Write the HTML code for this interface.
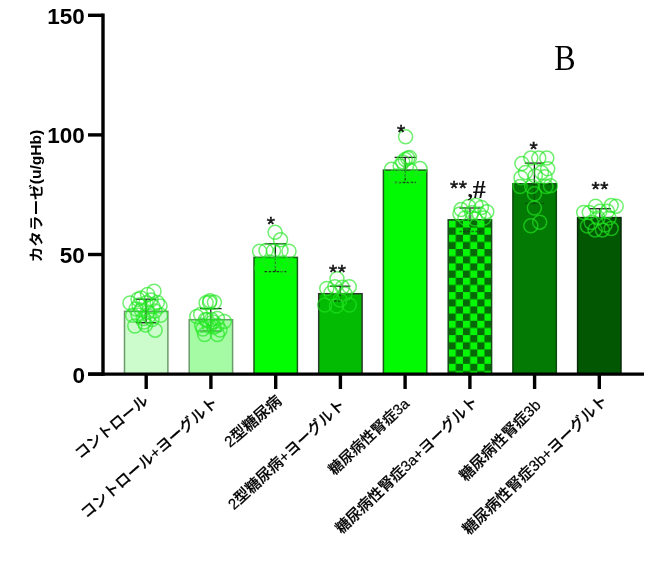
<!DOCTYPE html>
<html><head><meta charset="utf-8"><style>
html,body{margin:0;padding:0;background:#fff;width:650px;height:561px;overflow:hidden}
svg{display:block;filter:blur(0.35px)}
</style></head><body><svg width="650" height="561" viewBox="0 0 650 561"><defs><pattern id="chk" x="448.6" y="220.4" width="14.34" height="14.34" patternUnits="userSpaceOnUse"><rect width="14.34" height="14.34" fill="#066806"/><rect width="7.17" height="7.17" fill="#06f806"/><rect x="7.17" y="7.17" width="7.17" height="7.17" fill="#06f806"/></pattern></defs><rect x="124.5" y="311.3" width="43.4" height="62.8" fill="#ccfccc" stroke="#6a9c6a" stroke-width="1.5"/><rect x="189.2" y="319.7" width="43.4" height="54.4" fill="#a4fba4" stroke="#6a9c6a" stroke-width="1.5"/><rect x="254.0" y="257.4" width="43.4" height="116.7" fill="#02fc02" stroke="#1a5a1a" stroke-width="1.5"/><rect x="318.7" y="293.7" width="43.4" height="80.4" fill="#02bb02" stroke="#2a3a2a" stroke-width="1.5"/><rect x="383.4" y="170.1" width="43.4" height="204.0" fill="#02fa02" stroke="#1a5a1a" stroke-width="1.5"/><rect x="448.2" y="219.8" width="43.4" height="154.3" fill="url(#chk)" stroke="#1a4a1a" stroke-width="1.5"/><rect x="512.9" y="183.8" width="43.4" height="190.3" fill="#037a03" stroke="#0a4a0a" stroke-width="1.5"/><rect x="577.6" y="217.6" width="43.4" height="156.5" fill="#025802" stroke="#0a2a0a" stroke-width="1.5"/><g fill="none" stroke="#1e1e1e" stroke-width="1.3"><line x1="146.0" y1="299.2" x2="146.0" y2="311.3"/><line x1="135.8" y1="299.2" x2="156.2" y2="299.2"/><g stroke-opacity="1.00"><line x1="146.0" y1="311.3" x2="146.0" y2="322.7"/><line x1="135.8" y1="322.7" x2="156.2" y2="322.7"/></g><line x1="210.8" y1="308.6" x2="210.8" y2="319.7"/><line x1="200.0" y1="308.6" x2="221.6" y2="308.6"/><g stroke-opacity="0.50"><line x1="210.8" y1="319.7" x2="210.8" y2="331.0"/><line x1="200.0" y1="331.0" x2="221.6" y2="331.0"/></g><line x1="275.4" y1="243.8" x2="275.4" y2="257.4"/><line x1="264.6" y1="243.8" x2="286.2" y2="243.8"/><g stroke-opacity="0.90" stroke-dasharray="2.5 1.5"><line x1="275.4" y1="257.4" x2="275.4" y2="271.6"/><line x1="264.6" y1="271.6" x2="286.2" y2="271.6"/></g><line x1="340.2" y1="286.2" x2="340.2" y2="293.7"/><line x1="330.0" y1="286.2" x2="350.4" y2="286.2"/><g stroke-opacity="0.80" stroke-dasharray="2.5 1.5"><line x1="340.2" y1="293.7" x2="340.2" y2="300.8"/><line x1="330.0" y1="300.8" x2="350.4" y2="300.8"/></g><line x1="405.2" y1="157.4" x2="405.2" y2="170.1"/><line x1="394.6" y1="157.4" x2="415.8" y2="157.4"/><g stroke-opacity="0.80" stroke-dasharray="2.5 1.5"><line x1="405.2" y1="170.1" x2="405.2" y2="182.5"/><line x1="394.6" y1="182.5" x2="415.8" y2="182.5"/></g><line x1="470.0" y1="208.0" x2="470.0" y2="219.8"/><line x1="459.4" y1="208.0" x2="480.6" y2="208.0"/><g stroke-opacity="0.60" stroke-dasharray="2.5 1.5"><line x1="470.0" y1="219.8" x2="470.0" y2="231.5"/><line x1="459.4" y1="231.5" x2="480.6" y2="231.5"/></g><line x1="534.4" y1="163.1" x2="534.4" y2="183.8"/><line x1="524.8" y1="163.1" x2="544.0" y2="163.1"/><g stroke-opacity="0.35"><line x1="534.4" y1="183.8" x2="534.4" y2="203.5"/><line x1="524.8" y1="203.5" x2="544.0" y2="203.5"/></g><line x1="599.8" y1="208.7" x2="599.8" y2="217.6"/><line x1="588.8" y1="208.7" x2="610.8" y2="208.7"/><g stroke-opacity="0.30"><line x1="599.8" y1="217.6" x2="599.8" y2="226.0"/><line x1="588.8" y1="226.0" x2="610.8" y2="226.0"/></g></g><g fill="none" stroke="#22e622" stroke-width="1.5" stroke-opacity="0.65"><circle cx="154.0" cy="291.2" r="7"/><circle cx="147.6" cy="294.4" r="7"/><circle cx="130.0" cy="303.0" r="7"/><circle cx="138.0" cy="299.2" r="7"/><circle cx="157.3" cy="302.4" r="7"/><circle cx="160.0" cy="306.0" r="7"/><circle cx="132.7" cy="315.3" r="7"/><circle cx="134.8" cy="326.0" r="7"/><circle cx="155.1" cy="330.2" r="7"/><circle cx="145.5" cy="324.9" r="7"/><circle cx="147.6" cy="312.0" r="7"/><circle cx="141.2" cy="310.0" r="7"/><circle cx="153.0" cy="306.7" r="7"/><circle cx="160.5" cy="315.3" r="7"/><circle cx="143.4" cy="318.5" r="7"/><circle cx="152.0" cy="319.5" r="7"/><circle cx="139.0" cy="305.0" r="7"/><circle cx="146.0" cy="303.0" r="7"/><circle cx="141.0" cy="298.0" r="7"/><circle cx="151.0" cy="300.0" r="7"/><circle cx="138.0" cy="315.0" r="7"/><circle cx="149.0" cy="316.0" r="7"/><circle cx="144.0" cy="322.0" r="7"/><circle cx="155.0" cy="311.0" r="7"/><circle cx="136.0" cy="309.0" r="7"/><circle cx="209.5" cy="302.3" r="7"/><circle cx="206.1" cy="302.8" r="7"/><circle cx="214.4" cy="302.3" r="7"/><circle cx="210.0" cy="300.8" r="7"/><circle cx="196.8" cy="316.5" r="7"/><circle cx="200.7" cy="314.5" r="7"/><circle cx="205.6" cy="319.4" r="7"/><circle cx="211.5" cy="319.4" r="7"/><circle cx="217.4" cy="318.5" r="7"/><circle cx="224.3" cy="321.4" r="7"/><circle cx="201.7" cy="325.3" r="7"/><circle cx="209.5" cy="326.3" r="7"/><circle cx="217.4" cy="325.3" r="7"/><circle cx="204.6" cy="334.6" r="7"/><circle cx="217.4" cy="334.6" r="7"/><circle cx="213.0" cy="322.0" r="7"/><circle cx="207.0" cy="320.0" r="7"/><circle cx="214.0" cy="327.0" r="7"/><circle cx="203.0" cy="329.0" r="7"/><circle cx="220.0" cy="330.0" r="7"/><circle cx="275.1" cy="232.3" r="7"/><circle cx="280.5" cy="239.8" r="7"/><circle cx="259.6" cy="251.2" r="7"/><circle cx="266.0" cy="250.5" r="7"/><circle cx="273.5" cy="251.0" r="7"/><circle cx="281.0" cy="250.5" r="7"/><circle cx="289.0" cy="251.2" r="7"/><circle cx="270.0" cy="262.0" r="7"/><circle cx="282.0" cy="263.0" r="7"/><circle cx="262.0" cy="268.0" r="7"/><circle cx="288.0" cy="268.0" r="7"/><circle cx="337.0" cy="278.7" r="7"/><circle cx="326.8" cy="288.4" r="7"/><circle cx="334.9" cy="286.7" r="7"/><circle cx="342.4" cy="287.3" r="7"/><circle cx="349.3" cy="286.7" r="7"/><circle cx="331.0" cy="293.0" r="7"/><circle cx="345.0" cy="294.0" r="7"/><circle cx="324.7" cy="305.0" r="7"/><circle cx="336.5" cy="306.0" r="7"/><circle cx="349.3" cy="305.0" r="7"/><circle cx="340.0" cy="300.0" r="7"/><circle cx="405.6" cy="136.8" r="7"/><circle cx="407.7" cy="158.2" r="7"/><circle cx="405.2" cy="159.4" r="7"/><circle cx="409.5" cy="157.5" r="7"/><circle cx="402.7" cy="161.9" r="7"/><circle cx="391.5" cy="169.3" r="7"/><circle cx="400.2" cy="166.1" r="7"/><circle cx="420.0" cy="168.6" r="7"/><circle cx="410.0" cy="170.0" r="7"/><circle cx="396.0" cy="176.0" r="7"/><circle cx="414.0" cy="177.0" r="7"/><circle cx="461.1" cy="209.6" r="7"/><circle cx="468.6" cy="206.4" r="7"/><circle cx="476.1" cy="205.3" r="7"/><circle cx="481.4" cy="207.5" r="7"/><circle cx="486.8" cy="211.7" r="7"/><circle cx="460.0" cy="213.9" r="7"/><circle cx="471.8" cy="212.8" r="7"/><circle cx="479.3" cy="213.9" r="7"/><circle cx="465.0" cy="218.0" r="7"/><circle cx="475.0" cy="219.0" r="7"/><circle cx="484.0" cy="218.0" r="7"/><circle cx="521.9" cy="163.5" r="7"/><circle cx="530.8" cy="158.1" r="7"/><circle cx="538.8" cy="158.1" r="7"/><circle cx="546.8" cy="158.1" r="7"/><circle cx="525.5" cy="172.4" r="7"/><circle cx="541.5" cy="172.4" r="7"/><circle cx="547.7" cy="168.8" r="7"/><circle cx="521.0" cy="177.7" r="7"/><circle cx="535.3" cy="176.0" r="7"/><circle cx="545.0" cy="176.8" r="7"/><circle cx="520.1" cy="186.6" r="7"/><circle cx="531.7" cy="186.6" r="7"/><circle cx="546.0" cy="186.6" r="7"/><circle cx="550.4" cy="185.7" r="7"/><circle cx="534.4" cy="193.8" r="7"/><circle cx="534.4" cy="208.0" r="7"/><circle cx="530.8" cy="225.8" r="7"/><circle cx="539.7" cy="222.2" r="7"/><circle cx="595.6" cy="206.2" r="7"/><circle cx="611.2" cy="205.6" r="7"/><circle cx="616.2" cy="206.2" r="7"/><circle cx="583.7" cy="212.4" r="7"/><circle cx="589.3" cy="212.4" r="7"/><circle cx="600.0" cy="211.2" r="7"/><circle cx="607.4" cy="211.2" r="7"/><circle cx="587.5" cy="226.1" r="7"/><circle cx="595.0" cy="229.9" r="7"/><circle cx="602.4" cy="229.9" r="7"/><circle cx="611.2" cy="228.6" r="7"/><circle cx="605.0" cy="224.9" r="7"/><circle cx="591.2" cy="222.4" r="7"/><circle cx="598.0" cy="218.0" r="7"/><circle cx="609.0" cy="218.0" r="7"/></g><g font-family="Liberation Sans, Arial, sans-serif" font-size="21" font-weight="normal" fill="#111" stroke="#111" stroke-width="0.5" text-anchor="middle"><text x="270.8" y="231.0">*</text><text x="333.2" y="279.0">*</text><text x="341.8" y="279.0">*</text><text x="401.2" y="139.0">*</text><text x="454.2" y="194.6">*</text><text x="462.8" y="194.6">*</text><text x="533.5" y="156.0">*</text><text x="595.7" y="196.2">*</text><text x="604.3" y="196.2">*</text></g><text x="467.5" y="197.4" font-family="Liberation Serif, serif" font-size="22" font-weight="bold" fill="#111">,</text><text x="472.8" y="197.6" font-family="Liberation Serif, serif" font-size="26" font-weight="bold" fill="#111">#</text><g stroke="#000" stroke-width="3.4" fill="none"><line x1="103" y1="13.6" x2="103" y2="375.8"/><line x1="88" y1="374.1" x2="644" y2="374.1"/><line x1="88" y1="374.1" x2="103" y2="374.1"/><line x1="88" y1="254.5" x2="103" y2="254.5"/><line x1="88" y1="134.9" x2="103" y2="134.9"/><line x1="88" y1="15.3" x2="103" y2="15.3"/><line x1="146.2" y1="374" x2="146.2" y2="389"/><line x1="210.9" y1="374" x2="210.9" y2="389"/><line x1="275.7" y1="374" x2="275.7" y2="389"/><line x1="340.4" y1="374" x2="340.4" y2="389"/><line x1="405.1" y1="374" x2="405.1" y2="389"/><line x1="469.9" y1="374" x2="469.9" y2="389"/><line x1="534.6" y1="374" x2="534.6" y2="389"/><line x1="599.3" y1="374" x2="599.3" y2="389"/></g><g font-family="Liberation Sans, Arial, sans-serif" font-weight="bold" font-size="22.5" text-anchor="end" fill="#000"><text x="84.9" y="382.5">0</text><text x="84.9" y="262.9">50</text><text x="84.9" y="143.3">100</text><text x="84.9" y="23.7">150</text></g><text transform="translate(40.6,196) rotate(-90) scale(1,0.88)" text-anchor="middle" font-family="Liberation Sans, 'Noto Sans CJK JP', sans-serif" font-weight="bold" font-size="15.6" fill="#000">カタラーゼ(u/gHb)</text><g font-family="Liberation Sans, 'Noto Sans CJK JP', sans-serif" font-weight="500" fill="#000" stroke="#000" stroke-width="0.2" text-anchor="end"><text font-size="14.95" transform="translate(149.2,402.3) rotate(-39.75)">コントロール</text><text font-size="15.14" transform="translate(218.8,404.1) rotate(-41.00)">コントロール+ヨーグルト</text><text font-size="15.30" transform="translate(282.7,402.6) rotate(-40.75)">2型糖尿病</text><text font-size="15.15" transform="translate(346.2,405.8) rotate(-43.00)">2型糖尿病+ヨーグルト</text><text font-size="14.62" transform="translate(410.2,404.9) rotate(-43.00)">糖尿病性腎症3a</text><text font-size="14.99" transform="translate(478.9,403.0) rotate(-43.75)">糖尿病性腎症3a+ヨーグルト</text><text font-size="15.09" transform="translate(541.6,406.1) rotate(-45.00)">糖尿病性腎症3b</text><text font-size="15.24" transform="translate(608.5,401.8) rotate(-43.75)">糖尿病性腎症3b+ヨーグルト</text></g><text transform="translate(554.2,70.2) scale(0.89,1)" font-family="Liberation Serif, serif" font-size="36" fill="#000">B</text></svg></body></html>
